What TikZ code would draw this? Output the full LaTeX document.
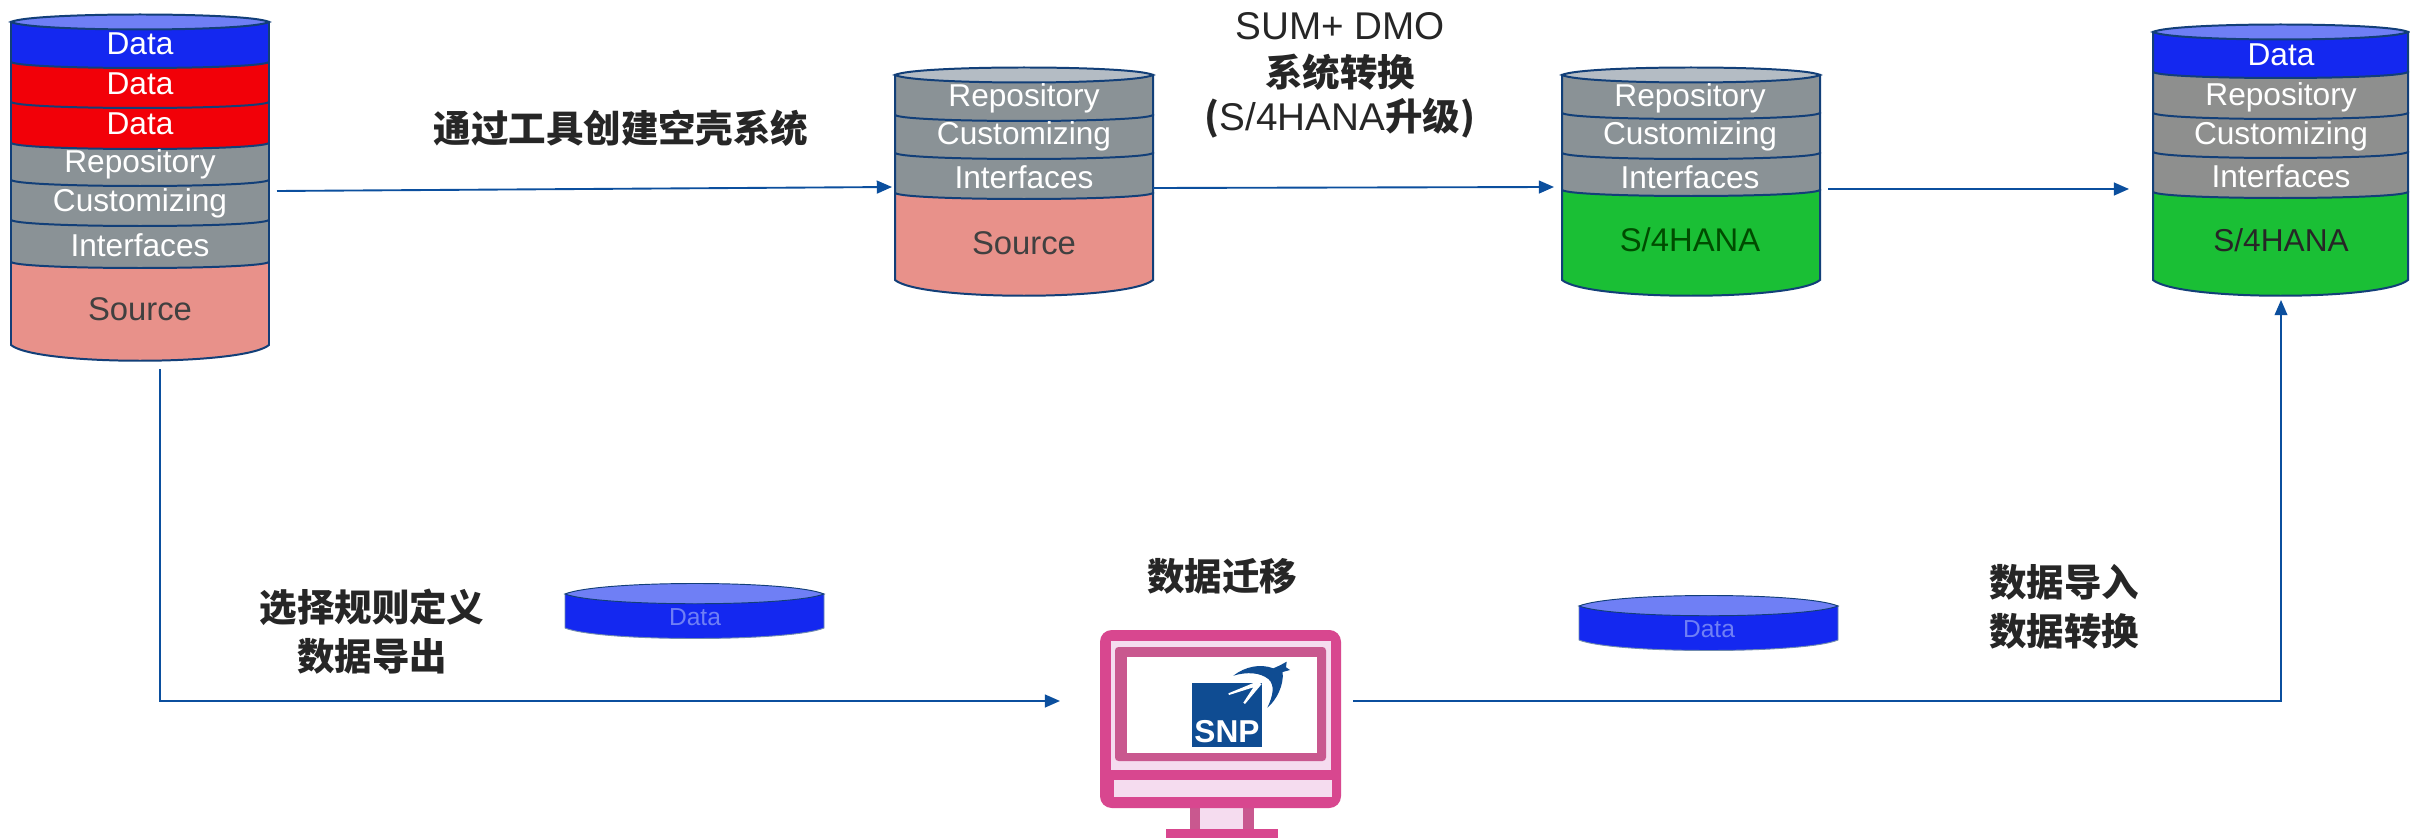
\documentclass[tikz,border=0pt]{standalone}
\usepackage{fontspec}
\setmainfont{Liberation Sans}
\newfontfamily\cjk{Noto Sans CJK SC}
\usetikzlibrary{arrows.meta}
\definecolor{edgeblue}{HTML}{123F78}
\definecolor{linkblue}{HTML}{0B4F9E}
\definecolor{grayfill}{HTML}{8E8F8E}
\definecolor{blurgray}{HTML}{8A9296}
\definecolor{dataBlue}{HTML}{1428F0}
\definecolor{dataRed}{HTML}{F20008}
\definecolor{srcPink}{HTML}{E8918A}
\definecolor{osGreen}{HTML}{1ABF35}
\definecolor{topBlue}{HTML}{6F7FF5}
\definecolor{topGray}{HTML}{B4BCC4}
\definecolor{pinkA}{HTML}{D8478F}
\definecolor{pinkB}{HTML}{C9588F}
\definecolor{pinkL}{HTML}{F5DCEF}
\definecolor{snpblue}{HTML}{0F4C92}
\newcommand{\pxfont}[1]{\fontsize{#1}{#1}\selectfont}
% x0 x1 top bottom fill
\newcommand{\slayer}[5]{%
  \draw[layeredge,fill=#5] (#1,#3) -- (#1,#4)
    .. controls (#1+10,#4+8) and (#2-10,#4+8) .. (#2,#4)
    -- (#2,#3) -- cycle;}
\newcommand{\sbase}[5]{%
  \draw[layeredge,fill=#5] (#1,#3) -- (#1,#4)
    .. controls (#1+25,#4+21) and (#2-25,#4+21) .. (#2,#4)
    -- (#2,#3) -- cycle;}
\newcommand{\scap}[4]{% x0 x1 y fill
  \draw[layeredge,fill=#4] (#1,#3)
    .. controls (#1+20,#3-10) and (#2-20,#3-10) .. (#2,#3)
    .. controls (#2-20,#3+10) and (#1+20,#3+10) .. (#1,#3) -- cycle;}
\tikzset{
  layeredge/.style={draw=edgeblue,line width=1.7pt},
  link/.style={draw=linkblue,line width=1.6pt,-{Triangle[length=13pt,width=11pt]}},
  thinlink/.style={link,line width=1.1pt},
  wlabel/.style={text=white,inner sep=0pt,font=\pxfont{27}},
  dlabel/.style={text=black!85,inner sep=0pt,font=\pxfont{27}},
  blurdark/.style={text=black!75,inner sep=0pt,font=\pxfont{28}},
  cnlabel/.style={text=black!85,inner sep=0pt,align=center,font=\cjk\bfseries\pxfont{32}}
}
\begin{document}
\begin{tikzpicture}[x=0.3mm,y=-0.3mm]
\useasboundingbox (0,0) rectangle (2410,838);
\fill[white] (0,0) rectangle (2410,838);

% ---- stack 1
\sbase{11}{269}{262}{345}{srcPink}
\slayer{11}{269}{220}{262}{blurgray}
\slayer{11}{269}{180}{220}{blurgray}
\slayer{11}{269}{143}{180}{blurgray}
\slayer{11}{269}{102}{143}{dataRed}
\slayer{11}{269}{62}{102}{dataRed}
\slayer{11}{269}{22}{62}{dataBlue}
\scap{11}{269}{22}{topBlue}
\node[wlabel] (a1) at (140,44) {Data};
\node[wlabel] (a2) at (140,84) {Data};
\node[wlabel] (a3) at (140,124) {Data};
\node[wlabel] (a4) at (140,164) {Repository};
\node[wlabel] (a5) at (140,203) {Customizing};
\node[wlabel] (a6) at (140,245) {Interfaces};
\node[blurdark] (a7) at (140,309) {Source};
\coordinate (a-out) at (277,191);
\coordinate (a-down) at (160,369);

% ---- stack 2
\sbase{895}{1153}{193}{280}{srcPink}
\slayer{895}{1153}{153}{193}{blurgray}
\slayer{895}{1153}{115}{153}{blurgray}
\slayer{895}{1153}{75}{115}{blurgray}
\scap{895}{1153}{75}{topGray}
\node[wlabel] (b1) at (1024,98) {Repository};
\node[wlabel] (b2) at (1024,136) {Customizing};
\node[wlabel] (b3) at (1024,177) {Interfaces};
\node[blurdark] (b4) at (1024,243) {Source};
\coordinate (b-in) at (892,187);
\coordinate (b-out) at (1153,188);

% ---- stack 3
\sbase{1562}{1820}{190}{280}{osGreen}
\slayer{1562}{1820}{153}{190}{blurgray}
\slayer{1562}{1820}{113}{153}{blurgray}
\slayer{1562}{1820}{75}{113}{blurgray}
\scap{1562}{1820}{75}{topGray}
\node[wlabel] (c1) at (1690,98) {Repository};
\node[wlabel] (c2) at (1690,136) {Customizing};
\node[wlabel] (c3) at (1690,177) {Interfaces};
\node[blurdark,text=black!70!green] (c4) at (1690,240) {S/4HANA};
\coordinate (c-in) at (1554,187);
\coordinate (c-out) at (1828,189);

% ---- stack 4
\sbase{2153}{2408}{192}{280}{osGreen}
\slayer{2153}{2408}{152}{192}{grayfill}
\slayer{2153}{2408}{113}{152}{grayfill}
\slayer{2153}{2408}{72}{113}{grayfill}
\slayer{2153}{2408}{32}{72}{dataBlue}
\scap{2153}{2408}{32}{topBlue}
\node[wlabel] (d1) at (2281,55) {Data};
\node[wlabel] (d2) at (2281,97) {Repository};
\node[wlabel] (d3) at (2281,136) {Customizing};
\node[wlabel] (d4) at (2281,176) {Interfaces};
\node[dlabel] (d5) at (2281,240) {S/4HANA};
\coordinate (d-in) at (2129,189);
\coordinate (d-up) at (2281,300);

% ---- discs
\draw[draw=edgeblue!60,line width=0.8pt,fill=dataBlue] (565,594) -- (565,628)
  .. controls (600,642) and (790,642) .. (824,628) -- (824,594) -- cycle;
\draw[draw=edgeblue,line width=0.8pt,fill=topBlue] (565,594)
  .. controls (600,580) and (790,580) .. (824,594)
  .. controls (790,607) and (600,607) .. (565,594) -- cycle;
\node[text=topBlue,inner sep=0pt,font=\pxfont{21}] (e1) at (695,617) {Data};
\draw[draw=edgeblue!60,line width=0.8pt,fill=dataBlue] (1579,606) -- (1579,640)
  .. controls (1614,654) and (1804,654) .. (1838,640) -- (1838,606) -- cycle;
\draw[draw=edgeblue,line width=0.8pt,fill=topBlue] (1579,606)
  .. controls (1614,592) and (1804,592) .. (1838,606)
  .. controls (1804,619) and (1614,619) .. (1579,606) -- cycle;
\node[text=topBlue,inner sep=0pt,font=\pxfont{21}] (e2) at (1709,629) {Data};

% ---- monitor
\fill[pinkB] (1190,800) rectangle (1254,838);
\fill[pinkL] (1200,808) rectangle (1243,830);
\fill[pinkA] (1166,829) rectangle (1278,838);
\fill[pinkA,rounded corners=10pt] (1100,630) rectangle (1341,808);
\fill[pinkL] (1111,641) rectangle (1331,770);
\fill[pinkB,rounded corners=3pt] (1115,647) rectangle (1326,761);
\fill[white] (1127,657) rectangle (1317,753);
\fill[pinkL] (1114,780) rectangle (1332,797);
\coordinate (m-in) at (1060,701);
\coordinate (m-out) at (1353,701);

% ---- logo
\fill[snpblue] (1192,683) rectangle (1262,747);
\node[text=white,inner sep=0pt,font=\bfseries\pxfont{27}] (snp) at (1227,732) {SNP};
\begin{scope}[shift={(1060,610)},x=0.1mm,y=-0.1mm]
  \fill[white] (590,215) -- (605,222) -- (555,282) -- (550,278) -- (580,232) -- (507,255) -- (505,250) -- cycle;
  \fill[snpblue] (520,197) .. controls (555,170) and (600,160) .. (640,175)
    -- (662,165) -- (680,155) -- (678,172) -- (690,180) -- (668,186)
    .. controls (672,225) and (650,270) .. (622,293)
    .. controls (640,255) and (645,225) .. (625,207)
    .. controls (600,187) and (560,185) .. (520,197) -- cycle;
\end{scope}

% ---- labels
\node[cnlabel] (t1) at (621,128) {通过工具创建空壳系统};
\node[text=black!85,inner sep=0pt,font=\pxfont{33}] (t2) at (1340,26) {SUM+ DMO};
\node[cnlabel] (t3) at (1340,72) {系统转换};
\node[cnlabel] (t4) at (1340,118) {({\normalfont\rmfamily\pxfont{33}S/4HANA}升级)};
\node[cnlabel] (t5) at (372,632) {选择规则定义\\[10pt]数据导出};
\node[cnlabel] (t6) at (1222,576) {数据迁移};
\node[cnlabel] (t7) at (2064,607) {数据导入\\[10pt]数据转换};

% ---- connectors
\draw[link] (a-out) -- (b-in);
\draw[link] (b-out) -- (c-in);
\draw[link] (c-out) -- (d-in);
\draw[link] (a-down) |- (m-in);
\draw[thinlink] (m-out) -| (d-up);
\end{tikzpicture}
\end{document}
